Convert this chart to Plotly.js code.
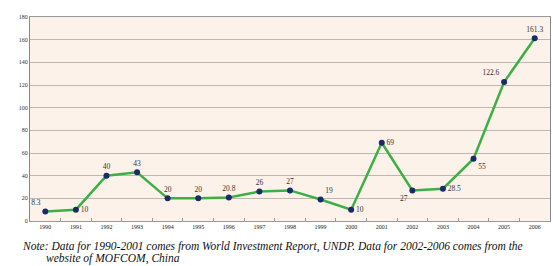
<!DOCTYPE html>
<html>
<head>
<meta charset="utf-8">
<script src="https://cdn.plot.ly/plotly-3.0.1.min.js"></script>
<style>html,body{margin:0;padding:0;background:#fff;}#chart{width:553px;height:266px;}</style>
</head>
<body>
<div id="chart"></div>
<script>
const years = ['1990','1991','1992','1993','1994','1995','1996','1997','1998','1999','2000','2001','2002','2003','2004','2005','2006'];
const values = [8.3, 10, 40, 43, 20, 20, 20.8, 26, 27, 19, 10, 69, 27, 28.5, 55, 122.6, 161.3];
const labels = ['8.3','10','40','43','20','20','20.8','26','27','19','10','69','27','28.5','55','122.6','161.3'];
const labelPos = ['top left','middle right','top center','top center','top center','top center','top center','top center','top center','top right','middle right','middle right','bottom left','middle right','bottom right','top left','top center'];
const yTicks = [0,20,40,60,80,100,120,140,160,180];

const SERIF = 'Times New Roman, Liberation Serif, DejaVu Serif, serif';

const trace = {
  type: 'scatter',
  mode: 'lines+markers+text',
  x: years,
  y: values,
  text: labels,
  textposition: labelPos,
  textfont: {family: SERIF, size: 7.5, color: '#333333'},
  line: {color: '#3cb043', width: 2.5},
  marker: {color: '#1b2a6b', size: 6},
  cliponaxis: false,
  hoverinfo: 'skip'
};

const layout = {
  width: 553, height: 266,
  margin: {l: 30, r: 3, t: 17, b: 45},
  paper_bgcolor: '#ffffff',
  plot_bgcolor: '#fdf2ea',
  showlegend: false,
  font: {family: SERIF, color: '#333'},
  xaxis: {
    type: 'category',
    tickvals: years, ticktext: years,
    tickfont: {family: SERIF, size: 6, color: '#222'},
    showgrid: false,
    showline: true, linecolor: '#999', linewidth: 1, mirror: true,
    ticks: 'inside', ticklen: 3, tickcolor: '#999', tickson: 'boundaries',
    zeroline: false,
    range: [-0.5, 16.5],
    fixedrange: true
  },
  yaxis: {
    range: [0, 180],
    tickvals: yTicks,
    tickfont: {family: SERIF, size: 6, color: '#333'},
    showgrid: true, gridcolor: '#bdb8b3', gridwidth: 1,
    showline: true, linecolor: '#888', linewidth: 1, mirror: true,
    zeroline: false,
    ticks: '',
    fixedrange: true
  },
  annotations: [
    {xref: 'paper', yref: 'paper', x: -0.02, y: -0.125, xanchor: 'left', yanchor: 'middle', showarrow: false,
     text: '<i>Note: Data for 1990-2001 comes from World Investment Report, UNDP. Data for 2002-2006 comes from the</i>',
     font: {family: SERIF, size: 11.5, color: '#111'}},
    {xref: 'paper', yref: 'paper', x: 0.027, y: -0.185, xanchor: 'left', yanchor: 'middle', showarrow: false,
     text: '<i>website of MOFCOM, China</i>',
     font: {family: SERIF, size: 11.5, color: '#111'}}
  ]
};

Plotly.newPlot('chart', [trace], layout, {displayModeBar: false, staticPlot: true});
</script>
</body>
</html>
